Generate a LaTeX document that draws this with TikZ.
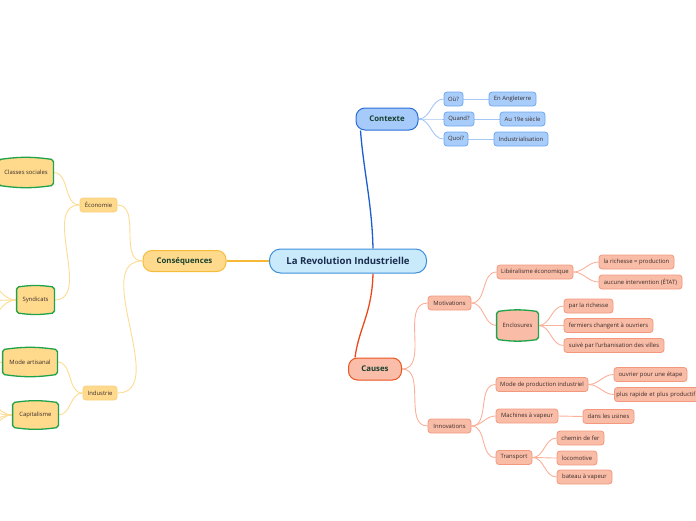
\documentclass[tikz,border=0pt]{standalone}
\usepackage{fontspec}
\setmainfont{Open Sans}
\definecolor{rootfill}{HTML}{C9EAFB}
\definecolor{rootdraw}{HTML}{3D8FD9}
\definecolor{roottext}{HTML}{1A2C4E}
\definecolor{maintext}{HTML}{17402F}
\definecolor{subtext}{HTML}{3B2E2A}
\definecolor{bluefill}{HTML}{A6CAF9}
\definecolor{bluedraw}{HTML}{2A6FD6}
\definecolor{bluesub}{HTML}{A9CDFA}
\definecolor{bluesubdraw}{HTML}{6FA7EE}
\definecolor{blueline}{HTML}{1C5ED0}
\definecolor{bluesubline}{HTML}{A3C6F4}
\definecolor{orfill}{HTML}{F9BDA9}
\definecolor{ordraw}{HTML}{EA541F}
\definecolor{orsub}{HTML}{F9BCA7}
\definecolor{orsubdraw}{HTML}{F3987D}
\definecolor{orline}{HTML}{E84A1A}
\definecolor{orsubline}{HTML}{F9B19A}
\definecolor{yefill}{HTML}{FFDA8C}
\definecolor{yedraw}{HTML}{F7BB3C}
\definecolor{yesub}{HTML}{FFD98C}
\definecolor{yesubdraw}{HTML}{FDD07C}
\definecolor{yeline}{HTML}{F6B935}
\definecolor{yesubline}{HTML}{FDDB92}
\definecolor{greenb}{HTML}{1FA34A}
\pgfdeclarelayer{lines}
\pgfdeclarelayer{shapes}
\pgfsetlayers{lines,shapes,main}
\tikzset{
  base/.style={rounded corners=3pt, line width=0.8pt, inner xsep=2pt, inner ysep=1pt,
    minimum height=14pt, font=\fontsize{5.9}{6.5}\selectfont, text=subtext},
  bsub/.style={base, fill=bluesub, draw=bluesubdraw},
  osub/.style={base, fill=orsub, draw=orsubdraw},
  ysub/.style={base, fill=yesub, draw=yesubdraw},
  barrel/.style={base, minimum height=25pt},
  mainnode/.style={rounded corners=9pt, line width=1pt, minimum height=22pt, inner xsep=2pt,
    font=\bfseries\fontsize{7.8}{8}\selectfont, text=maintext},
  rootnode/.style={rounded corners=11pt, line width=1pt, minimum height=24pt, minimum width=157pt,
    fill=rootfill, draw=rootdraw, font=\bfseries\fontsize{9.6}{10}\selectfont, text=roottext},
  bl/.style={draw=bluesubline, line width=0.9pt},
  ol/.style={draw=orsubline, line width=0.9pt},
  yl/.style={draw=yesubline, line width=0.9pt},
  rc/.style={out=0, in=180},
  lc/.style={out=180, in=0},
}
\newcommand\barrelshape[2]{%
  \fill[#2] (#1.north west) to[bend left=8] (#1.north east) -- (#1.south east)
    to[bend left=8] (#1.south west) -- cycle;
  \draw[greenb, line width=1.3pt, rounded corners=2pt] (#1.north west) to[bend left=8] (#1.north east) -- (#1.south east)
    to[bend left=8] (#1.south west) -- cycle;}
\begin{document}
\begin{tikzpicture}[x=1pt, y=-1pt]
\useasboundingbox (0,0) rectangle (696,520);
\clip (0,0) rectangle (696,520);
% root and main
\node[rootnode] (root) at (348,261) {La Revolution Industrielle};
\node[mainnode, fill=bluefill, draw=bluedraw, minimum width=62pt] (ctx) at (387,119) {Contexte};
\node[mainnode, fill=orfill, draw=ordraw, minimum width=53pt] (cau) at (375,369) {Causes};
\node[mainnode, fill=yefill, draw=yedraw, minimum width=83pt, minimum height=21pt] (cons) at (184.5,261) {Conséquences};
% Contexte
\node[bsub, minimum width=19pt] (ou) at (453.5,99) {Où?};
\node[bsub, minimum width=30pt] (quand) at (459,119) {Quand?};
\node[bsub, minimum width=24pt] (quoi) at (456,139) {Quoi?};
\node[bsub, minimum width=47pt] (angl) at (512.5,99) {En Angleterre};
\node[bsub, minimum width=45pt] (siecle) at (522.5,119) {Au 19e siècle};
\node[bsub, minimum width=54pt] (indus) at (521,139) {Industrialisation};
% Causes
\node[osub, minimum width=43pt] (motiv) at (449.5,303) {Motivations};
\node[osub, minimum width=43pt] (innov) at (449.5,426) {Innovations};
\node[osub, minimum width=76pt] (lib) at (535,272) {Libéralisme économique};
\node[barrel, minimum width=41pt, minimum height=27pt] (encl) at (517.5,325.5) {Enclosures};
\node[osub, minimum width=75pt] (rich) at (636.5,262) {la richesse = production};
\node[osub, minimum width=83pt] (etat) at (640.5,282) {aucune intervention (ÉTAT)};
\node[osub, minimum width=49pt] (parr) at (588.5,306) {par la richesse};
\node[osub, minimum width=89pt] (ferm) at (608.5,325.5) {fermiers changent à ouvriers};
\node[osub, minimum width=100pt] (suiv) at (614,345.5) {suivé par l'urbanisation des villes};
\node[osub, minimum width=92pt] (mode) at (542,384.5) {Mode de production industriel};
\node[osub, minimum width=62pt] (mach) at (527,416) {Machines à vapeur};
\node[osub, minimum width=36pt] (transp) at (514,457.5) {Transport};
\node[osub, minimum width=73pt] (ouvr) at (650.5,374.5) {ouvrier pour une étape};
\node[osub, anchor=west, text width=92pt, align=left] (plus) at (614,394.5) {plus rapide et plus productif};
\node[osub, minimum width=51pt] (usin) at (608.5,416.5) {dans les usines};
\node[osub, minimum width=47pt] (chem) at (580.5,438) {chemin de fer};
\node[osub, minimum width=40pt] (loco) at (577,458) {locomotive};
\node[osub, minimum width=55pt] (bat) at (584.5,477) {bateau à vapeur};
% Consequences
\node[ysub, minimum width=37pt] (eco) at (98.5,205) {Économie};
\node[ysub, minimum width=34pt] (ind) at (100,393) {Industrie};
\node[barrel, minimum width=54pt] (cls) at (26,172.5) {Classes sociales};
\node[barrel, minimum width=37pt] (synd) at (35.5,300) {Syndicats};
\node[barrel, minimum width=54pt, minimum height=24pt] (art) at (30,362) {Mode artisanal};
\node[barrel, minimum width=45pt, minimum height=24pt] (capi) at (35.5,415) {Capitalisme};
\coordinate (s1) at (-25,272);
\coordinate (s2) at (-25,301);
\coordinate (s3) at (-25,330);
\coordinate (a1) at (-25,362);
\coordinate (c1) at (-25,392);
\coordinate (c2) at (-25,410);
\coordinate (c3) at (-25,425);
\coordinate (c4) at (-25,440);
\begin{pgfonlayer}{shapes}
\barrelshape{encl}{orsub}
\barrelshape{cls}{yesub}
\barrelshape{synd}{yesub}
\barrelshape{art}{yesub}
\barrelshape{capi}{yesub}
\end{pgfonlayer}
\begin{pgfonlayer}{lines}
% main connectors
\draw[blueline, line width=1.3pt] ([xshift=25pt]root.north) .. controls +(-1,-45) and +(3,40) .. ([xshift=5pt]ctx.south west);
\draw[orline, line width=1.3pt] ([xshift=25pt]root.south) .. controls +(-1,40) and +(4,-30) .. ([xshift=7pt]cau.north west);
\draw[yeline, line width=1.3pt] (root.west) -- (cons.east);
% contexte
\foreach \c in {ou,quand,quoi} \draw[bl] (ctx.east) to[rc] (\c.west);
\draw[bl] (ou.east) -- (angl.west);
\draw[bl] (quand.east) -- (siecle.west);
\draw[bl] (quoi.east) -- (indus.west);
% causes
\foreach \c in {motiv,innov} \draw[ol] (cau.east) to[rc] (\c.west);
\foreach \c in {lib,encl} \draw[ol] (motiv.east) to[rc] (\c.west);
\foreach \c in {rich,etat} \draw[ol] (lib.east) to[rc] (\c.west);
\foreach \c in {parr,ferm,suiv} \draw[ol] (encl.east) to[rc] (\c.west);
\foreach \c in {mode,mach,transp} \draw[ol] (innov.east) to[rc] (\c.west);
\foreach \c in {ouvr,plus} \draw[ol] (mode.east) to[rc] (\c.west);
\draw[ol] (mach.east) -- (usin.west);
\foreach \c in {chem,loco,bat} \draw[ol] (transp.east) to[rc] (\c.west);
% consequences
\foreach \c in {eco,ind} \draw[yl] (cons.west) to[lc] (\c.east);
\foreach \c in {cls,synd} \draw[yl] (eco.west) to[lc] (\c.east);
\foreach \c in {art,capi} \draw[yl] (ind.west) to[lc] (\c.east);
\foreach \c in {s1,s2,s3} \draw[yl] (synd.west) to[lc] (\c);
\draw[yl] (art.west) -- (a1);
\foreach \c in {c1,c2,c3,c4} \draw[yl] (capi.west) to[lc] (\c);
\end{pgfonlayer}
\end{tikzpicture}
\end{document}
